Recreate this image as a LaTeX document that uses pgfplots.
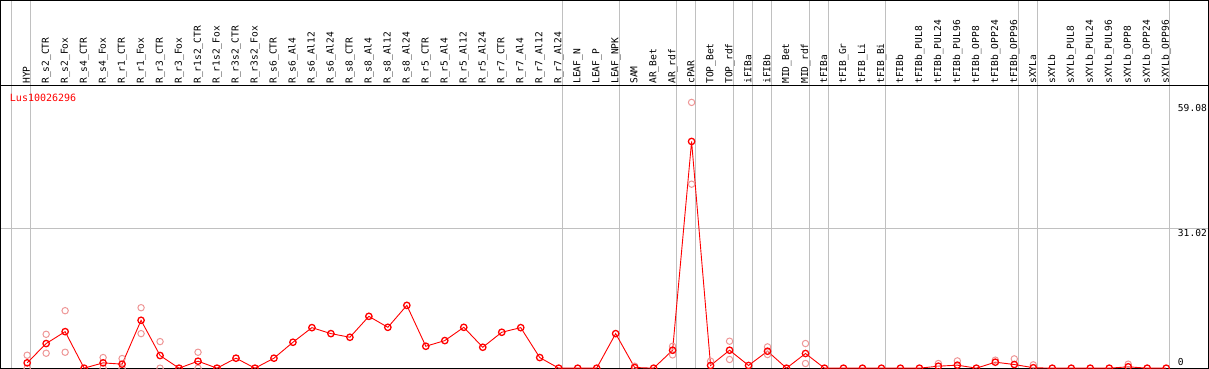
\documentclass[border=0pt]{standalone}
\usepackage{fontspec}
\setmainfont{DejaVu Sans Mono}
\usepackage{pgfplots}
\pgfplotsset{compat=1.18}
\definecolor{faint}{RGB}{238,150,150}
\definecolor{sep}{RGB}{192,192,192}
\newcommand{\lbl}{\fontsize{9.6}{10}\selectfont}
\pgfplotstableread{
x y
0 1.18
1 5.47
2 8.12
3 0
4 1.18
5 0.89
6 10.64
7 2.81
8 0
9 1.55
10 0
11 2.22
12 0
13 2.22
14 5.76
15 9.01
16 7.68
17 6.87
18 11.52
19 9.08
20 13.96
21 4.87
22 6.13
23 9.08
24 4.65
25 7.98
26 9.01
27 2.36
28 0
29 0
30 0
31 7.68
32 0.15
33 0
34 3.99
35 50.4
36 0.6
37 3.99
38 0.6
39 3.77
40 0
41 3.26
42 0
43 0
44 0
45 0
46 0
47 0
48 0.44
49 0.67
50 0
51 1.33
52 0.81
53 0.1
54 0
55 0
56 0
57 0
58 0.3
59 0
60 0
}\maindata
\pgfplotstableread{
x y
0 2.88
0 0
1 7.53
1 3.32
2 12.78
2 3.54
4 2.36
4 0
5 2.14
5 0
6 13.44
6 7.68
7 5.91
7 0
9 3.54
9 0
32 0.44
34 4.87
34 2.95
35 59.08
35 40.9
36 1.55
37 5.99
37 1.93
39 4.73
39 3.03
41 5.48
41 1.04
48 1.04
49 1.62
51 1.78
52 2.07
53 0.74
58 0.89
}\repdata
\begin{document}
\begin{tikzpicture}
\begin{axis}[
  scale only axis, width=1209pt, height=368pt,
  xmin=-1.405, xmax=62.23, ymin=0, ymax=81.73,
  axis line style={black, line width=1pt},
  xtick={-0.8,0.2,28.2,31.2,34.2,35.2,37.2,38.2,39.2,41.2,42.2,45.2,52.2,53.2,60.2},
  ytick={31.02},
  xticklabels={}, yticklabels={},
  major tick length=0pt,
  xmajorgrids, ymajorgrids,
  grid style={sep, line width=1pt},
  clip=true,
]
\draw[black, line width=1pt] (axis cs:-1.405,62.85) -- (axis cs:62.23,62.85);
\addplot[only marks, mark=o, mark size=3.2pt, faint, mark options={line width=1pt}] table {\repdata};
\addplot[red, line width=0.9pt, mark=o, mark size=3.2pt, mark options={line width=1.3pt, solid}] table {\maindata};
\foreach \i/\t in {0/HYP,1/R\_s2\_CTR,2/R\_s2\_Fox,3/R\_s4\_CTR,4/R\_s4\_Fox,5/R\_r1\_CTR,6/R\_r1\_Fox,7/R\_r3\_CTR,8/R\_r3\_Fox,9/R\_r1s2\_CTR,10/R\_r1s2\_Fox,11/R\_r3s2\_CTR,12/R\_r3s2\_Fox,13/R\_s6\_CTR,14/R\_s6\_Al4,15/R\_s6\_Al12,16/R\_s6\_Al24,17/R\_s8\_CTR,18/R\_s8\_Al4,19/R\_s8\_Al12,20/R\_s8\_Al24,21/R\_r5\_CTR,22/R\_r5\_Al4,23/R\_r5\_Al12,24/R\_r5\_Al24,25/R\_r7\_CTR,26/R\_r7\_Al4,27/R\_r7\_Al12,28/R\_r7\_Al24,29/LEAF\_N,30/LEAF\_P,31/LEAF\_NPK,32/SAM,33/AR\_Bet,34/AR\_rdf,35/cPAR,36/TOP\_Bet,37/TOP\_rdf,38/iFIBa,39/iFIBb,40/MID\_Bet,41/MID\_rdf,42/tFIBa,43/tFIB\_Gr,44/tFIB\_Li,45/tFIB\_Bi,46/tFIBb,47/tFIBb\_PUL8,48/tFIBb\_PUL24,49/tFIBb\_PUL96,50/tFIBb\_OPP8,51/tFIBb\_OPP24,52/tFIBb\_OPP96,53/sXYLa,54/sXYLb,55/sXYLb\_PUL8,56/sXYLb\_PUL24,57/sXYLb\_PUL96,58/sXYLb\_OPP8,59/sXYLb\_OPP24,60/sXYLb\_OPP96}{
  \edef\temp{\noexpand\node[rotate=90, anchor=mid west, inner sep=0pt, font=\noexpand\lbl] at (axis cs:\i,63.2) {\unexpanded\expandafter{\t}};}
  \temp
}
\node[anchor=base west, inner sep=0pt, text=red, font=\fontsize{10}{11}\selectfont] at (axis cs:-0.916,59.37) {Lus10026296};
\node[anchor=base west, inner sep=0pt, font=\lbl] at (axis cs:60.61,57.15) {59.08};
\node[anchor=base west, inner sep=0pt, font=\lbl] at (axis cs:60.61,29.32) {31.02};
\node[anchor=base west, inner sep=0pt, font=\lbl] at (axis cs:60.61,0.6) {0};
\end{axis}
\pgfresetboundingbox
\path[use as bounding box] ([shift={(-0.5pt,-0.5pt)}]current axis.south west) rectangle ([shift={(0.5pt,0.5pt)}]current axis.north east);
\end{tikzpicture}
\end{document}
